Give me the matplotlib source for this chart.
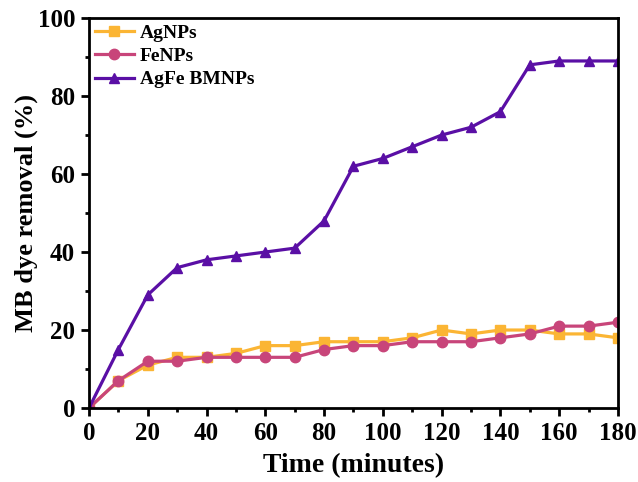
import matplotlib
matplotlib.use("Agg")
import matplotlib.pyplot as plt
from matplotlib.ticker import MultipleLocator

plt.rcParams['font.family'] = ['Liberation Serif', 'DejaVu Serif']
plt.rcParams['font.weight'] = 'bold'

time = [0, 10, 20, 30, 40, 50, 60, 70, 80, 90, 100, 110, 120, 130, 140, 150, 160, 170, 180]
ag = [0, 7, 11, 13, 13, 14, 16, 16, 17, 17, 17, 18, 20, 19, 20, 20, 19, 19, 18]
fe = [0, 7, 12, 12, 13, 13, 13, 13, 15, 16, 16, 17, 17, 17, 18, 19, 21, 21, 22]
agfe = [0, 15, 29, 36, 38, 39, 40, 41, 48, 62, 64, 67, 70, 72, 76, 88, 89, 89, 89]

fig = plt.figure(figsize=(6.38, 4.82), dpi=100)
ax = fig.add_axes([0.1395, 0.1535, 0.829, 0.809])

ax.plot(time, ag, '-s', color='#FBB534', lw=2.3, ms=7.5, label='AgNPs')
ax.plot(time, fe, '-o', color='#C8457A', lw=2.3, ms=7.5, label='FeNPs')
ax.plot(time, agfe, '-^', color='#5A0FA5', lw=2.3, ms=7.5, label='AgFe BMNPs')

ax.set_xlim(0, 180)
ax.set_ylim(0, 100)
ax.xaxis.set_major_locator(MultipleLocator(20))
ax.xaxis.set_minor_locator(MultipleLocator(10))
ax.yaxis.set_major_locator(MultipleLocator(20))
ax.yaxis.set_minor_locator(MultipleLocator(10))
ax.tick_params(which='major', direction='out', length=6, width=2, labelsize=18, pad=4)
ax.tick_params(which='minor', direction='out', length=3, width=2)
for s in ax.spines.values():
    s.set_linewidth(2)
for lab in ax.get_xticklabels() + ax.get_yticklabels():
    lab.set_fontweight('bold')

ax.set_xlabel('Time (minutes)', fontsize=20, fontweight='bold', labelpad=6)
ax.set_ylabel('MB dye removal (%)', fontsize=19, fontweight='bold', labelpad=0)

ax.legend(loc='upper left', frameon=False, handlelength=2.0,
          borderaxespad=0.1, borderpad=0.2, labelspacing=0.3, handletextpad=0.3,
          prop={'weight': 'bold', 'size': 14})

fig.savefig('out.png', dpi=100)
